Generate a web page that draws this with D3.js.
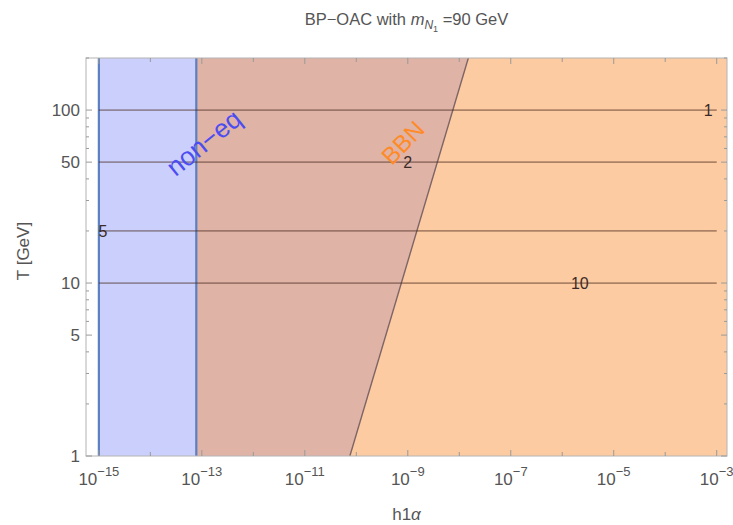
<!DOCTYPE html>
<html lang="en">
<head>
<meta charset="UTF-8">
<title>BP-OAC with m_N1 = 90 GeV</title>
<script src="https://d3js.org/d3.v7.min.js"></script>
<style>
  body { margin: 0; background: #fff; }
  svg { display: block; font-family: "Liberation Sans", Arial, sans-serif; }
  .tick-label { fill: #555; font-size: 17px; }
  .axis-title { fill: #555; font-size: 17px; }
  .contour-label { fill: #3b2a28; font-size: 16px; }
</style>
</head>
<body>
<svg id="chart" width="733" height="525"></svg>
<script>
// contour levels: temperature (GeV) of each line and its label
const contourT = [100, 50, 20, 10];
const contourLabels = ["1", "2", "5", "10"];
const contourLabelX = [6.8e-4, 1.0e-9, 1.2e-15, 2.2e-6];
const contourXRange = [1e-15, 1e-3];

// non-equilibrium band in h1 alpha
const nonEqRange = [1e-15, 7.8e-14];

// BBN boundary: h1 alpha as a function of T
const bbnT = [1, 200];
const bbnAlpha = [7.5e-11, 1.5e-8];

// axis ticks
const xMajorTicks = [-15, -13, -11, -9, -7, -5, -3];
const xMinorTicks = [-14, -12, -10, -8, -6, -4];
const yMajorTicks = [1, 5, 10, 50, 100];
const yMinorTicks = [2, 3, 4, 6, 7, 8, 9, 20, 30, 40, 60, 70, 80, 90, 200];

const svg = d3.select("#chart");
const pLeft = 86, pRight = 727, pTop = 58, pBottom = 456;

const x = d3.scaleLog().domain([Math.pow(10, -15.25), Math.pow(10, -2.8)]).range([pLeft, pRight]);
const y = d3.scaleLog().domain([1, 200]).range([pBottom, pTop]);

const plot = svg.append("g");

// clip to frame
svg.append("defs").append("clipPath").attr("id", "clip")
  .append("rect").attr("x", pLeft).attr("y", pTop)
  .attr("width", pRight - pLeft).attr("height", pBottom - pTop);
const area = plot.append("g").attr("clip-path", "url(#clip)");

// orange region: right of BBN line
const bbnPts = bbnT.map((t, i) => [x(bbnAlpha[i]), y(t)]);
area.append("path")
  .attr("d", d3.line()([bbnPts[0], bbnPts[1], [pRight, y(bbnT[1])], [pRight, y(bbnT[0])]]) + "Z")
  .attr("fill", "#fdcba1");

// brown region: between non-eq band and BBN line
area.append("path")
  .attr("d", d3.line()([[x(nonEqRange[1]), y(bbnT[0])], [x(nonEqRange[1]), y(bbnT[1])], bbnPts[1], bbnPts[0]]) + "Z")
  .attr("fill", "#dfb3a5");

// BBN boundary line
area.append("line")
  .attr("x1", bbnPts[0][0]).attr("y1", bbnPts[0][1])
  .attr("x2", bbnPts[1][0]).attr("y2", bbnPts[1][1])
  .attr("stroke", "#7d6466").attr("stroke-width", 1.4);

// non-eq band
area.append("rect")
  .attr("x", x(nonEqRange[0])).attr("y", pTop)
  .attr("width", x(nonEqRange[1]) - x(nonEqRange[0])).attr("height", pBottom - pTop)
  .attr("fill", "#cbcffb");
nonEqRange.forEach(v => {
  area.append("line")
    .attr("x1", x(v)).attr("x2", x(v)).attr("y1", pTop).attr("y2", pBottom)
    .attr("stroke", "#5b7fc0").attr("stroke-width", 2.2);
});

// contour lines
contourT.forEach((t, i) => {
  area.append("line")
    .attr("x1", x(contourXRange[0])).attr("x2", x(contourXRange[1]))
    .attr("y1", y(t)).attr("y2", y(t))
    .attr("stroke", "#4a2a22").attr("stroke-opacity", 0.45).attr("stroke-width", 1.7);
  area.append("text")
    .attr("class", "contour-label")
    .attr("x", x(contourLabelX[i])).attr("y", y(t) + 6)
    .attr("text-anchor", "middle")
    .text(contourLabels[i]);
});

// region labels
area.append("text")
  .attr("transform", `translate(${x(1.4e-13)},${y(59)}) rotate(-39)`)
  .attr("text-anchor", "middle")
  .attr("fill", "#4b4cf2").attr("font-size", 26)
  .text("non\u2212eq");
area.append("text")
  .attr("transform", `translate(${x(1.05e-9)},${y(60)}) rotate(-46)`)
  .attr("text-anchor", "middle")
  .attr("fill", "#ff8a26").attr("font-size", 24)
  .text("BBN");

// frame
plot.append("rect")
  .attr("x", pLeft).attr("y", pTop).attr("width", pRight - pLeft).attr("height", pBottom - pTop)
  .attr("fill", "none").attr("stroke", "#b4b4b4").attr("stroke-width", 1);

// ticks (inward on all four sides)
const tickCol = "#9a9a9a";
function xTick(v, len) {
  plot.append("line").attr("x1", x(v)).attr("x2", x(v)).attr("y1", pBottom).attr("y2", pBottom - len)
    .attr("stroke", tickCol);
  plot.append("line").attr("x1", x(v)).attr("x2", x(v)).attr("y1", pTop).attr("y2", pTop + len)
    .attr("stroke", tickCol);
}
function yTick(v, len) {
  plot.append("line").attr("y1", y(v)).attr("y2", y(v)).attr("x1", pLeft).attr("x2", pLeft + len)
    .attr("stroke", tickCol);
  plot.append("line").attr("y1", y(v)).attr("y2", y(v)).attr("x1", pRight).attr("x2", pRight - len)
    .attr("stroke", tickCol);
}
xMajorTicks.forEach(e => xTick(Math.pow(10, e), 6));
xMinorTicks.forEach(e => xTick(Math.pow(10, e), 4));
yMajorTicks.forEach(v => yTick(v, 6));
yMinorTicks.forEach(v => yTick(v, 3));

// x tick labels
xMajorTicks.forEach(e => {
  const t = plot.append("text").attr("class", "tick-label")
    .attr("x", x(Math.pow(10, e))).attr("y", pBottom + 29)
    .attr("text-anchor", "middle");
  t.append("tspan").text("10");
  t.append("tspan").attr("dy", -9).attr("font-size", 13).text("\u2212" + Math.abs(e));
});

// y tick labels
yMajorTicks.forEach(v => {
  plot.append("text").attr("class", "tick-label")
    .attr("x", pLeft - 6).attr("y", y(v) + 6)
    .attr("text-anchor", "end")
    .text(v);
});

// axis titles
const xt = svg.append("text").attr("class", "axis-title")
  .attr("x", (pLeft + pRight) / 2).attr("y", 520).attr("text-anchor", "middle");
xt.append("tspan").text("h1");
xt.append("tspan").attr("font-style", "italic").text("\u03b1");

svg.append("text").attr("class", "axis-title")
  .attr("transform", `translate(29,251) rotate(-90)`)
  .attr("text-anchor", "middle")
  .text("T [GeV]");

// title
const title = svg.append("text")
  .attr("x", (pLeft + pRight) / 2).attr("y", 25)
  .attr("text-anchor", "middle")
  .attr("fill", "#555").attr("font-size", 16.5);
title.append("tspan").text("BP\u2212OAC with ");
title.append("tspan").attr("font-style", "italic").text("m");
title.append("tspan").attr("font-style", "italic").attr("font-size", 12).attr("dy", 4).text("N");
title.append("tspan").attr("font-size", 9).attr("dy", 3).text("1");
title.append("tspan").attr("dy", -7).text(" =90 GeV");
</script>
</body>
</html>
